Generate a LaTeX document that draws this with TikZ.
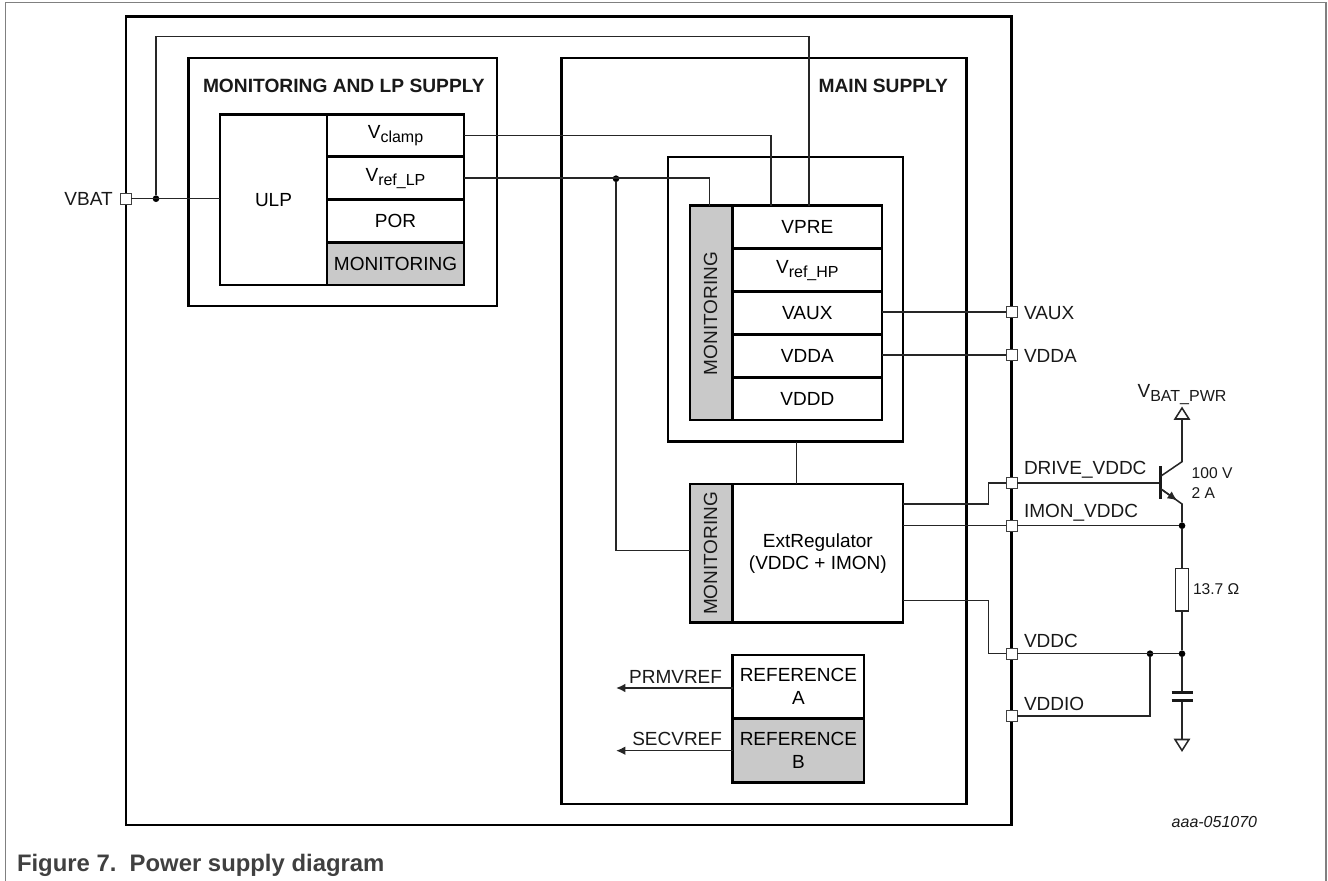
\documentclass[tikz,border=0pt]{standalone}
\usepackage{fontspec}
\setmainfont{Liberation Sans}
\usetikzlibrary{arrows.meta}
\newcommand{\vsub}[1]{V\raisebox{-3pt}{\fontsize{12}{12}\selectfont #1}}

\begin{document}
\begin{tikzpicture}[x=.75pt, y=-.75pt,
        nodes={inner sep=0pt, outer sep=0pt, text=black!90, font=\fontsize{14.25}{17}\selectfont},
        blk/.style 2 args={draw, black, line width=1.9pt, anchor=north west, align=center,
                minimum width=#1*.75pt, minimum height=#2*.75pt},
        shade/.style={fill=black!21},
        wire/.style={draw=black!85, line width=1.15pt},
        tipped/.style={-{Latex[length=7pt, width=6.5pt]}},
        pinbox/.style={draw=black!75, fill=white, line width=.9pt, minimum size=8.2pt},
        dot/.style={circle, fill=black, minimum size=5pt},
        lbl/.style={anchor=base west},
        small/.style={font=\fontsize{11.7}{14}\selectfont},
        title/.style={font=\bfseries\fontsize{14.4}{17}\selectfont}]
        \useasboundingbox (0,0) rectangle (1328,881);
        \draw[black!50, line width=1pt] (5.7,881) -- (5.7,2.7) -- (1326,2.7) -- (1326,881);

        \node[blk={885.7}{808.3}] (chip) at (126,16.7) {};
        \node[blk={308.5}{248}] (lp) at (188.5,58) {};
        \node[blk={405}{746}] (main) at (561.7,58) {};
        \node[blk={235}{284.7}] (inner) at (668,157) {};

        \node[blk={107}{170.5}] (ulp) at (220,114.5) {ULP};
        \node[blk={137}{42.2}] (vclamp) at (327,114.5) {\vsub{clamp}};
        \node[blk={137}{43}] (vreflp) at (327,156.7) {\vsub{ref\_LP}};
        \node[blk={137}{43}] (por) at (327,199.7) {POR};
        \node[blk={137}{42.3}, shade] (monlp) at (327,242.7) {MONITORING};

        \node[blk={43}{214.3}, shade] (monhp) at (690,205.7) {};
        \node[rotate=90] (monhptext) at (710.5,313.5) {MONITORING};
        \node[blk={149.3}{43}] (vpre) at (732.7,205.7) {VPRE};
        \node[blk={149.3}{43}] (vrefhp) at (732.7,248.7) {\vsub{ref\_HP}};
        \node[blk={149.3}{42.6}] (vaux) at (732.7,291.7) {VAUX};
        \node[blk={149.3}{43}] (vdda) at (732.7,334.3) {VDDA};
        \node[blk={149.3}{42.7}] (vddd) at (732.7,377.3) {VDDD};

        \node[blk={43}{138.7}, shade] (monext) at (690,484) {};
        \node[rotate=90] (monexttext) at (710.5,553.4) {MONITORING};
        \node[blk={170.3}{138.7}, font=\fontsize{14.25}{16.5}\selectfont] (extreg) at (732.7,484) {ExtRegulator\\(VDDC + IMON)};

        \node[blk={131.3}{63.3}, font=\fontsize{14.25}{17}\selectfont] (refa) at (732.7,655) {REFERENCE\\A};
        \node[blk={131.3}{64}, shade, font=\fontsize{14.25}{17}\selectfont] (refb) at (732.7,718.3) {REFERENCE\\B};

        \node[title, lbl] (lptitle) at (203,93) {MONITORING AND LP SUPPLY};
        \node[title, anchor=base east] (maintitle) at (948,93) {MAIN SUPPLY};

        \node[pinbox] (vbat) at (126,198.7) {};
        \node[pinbox] (pinvaux) at (1011.7,312) {};
        \node[pinbox] (pinvdda) at (1011.7,355) {};
        \node[pinbox] (pindrive) at (1011.7,483) {};
        \node[pinbox] (pinimon) at (1011.7,525.7) {};
        \node[pinbox] (pinvddc) at (1011.7,653.7) {};
        \node[pinbox] (pinvddio) at (1011.7,716) {};

        \node[anchor=base east] (vbatlbl) at (112.7,205) {VBAT};
        \node[lbl] (vauxlbl) at (1024,319) {VAUX};
        \node[lbl] (vddalbl) at (1024,362) {VDDA};
        \node[lbl] (drivelbl) at (1024,474) {DRIVE\_VDDC};
        \node[lbl] (imonlbl) at (1024,517) {IMON\_VDDC};
        \node[lbl] (vddclbl) at (1024,647) {VDDC};
        \node[lbl] (vddiolbl) at (1024,710) {VDDIO};
        \node[anchor=base east] (prmlbl) at (722,683) {PRMVREF};
        \node[anchor=base east] (seclbl) at (722,745) {SECVREF};

        \node[anchor=base] (vbatpwrlbl) at (1182,397) {\vsub{BAT\_PWR}};
        \node[lbl, small] (ratinga) at (1191.7,478) {100 V};
        \node[lbl, small] (ratingb) at (1191.7,498) {2 A};
        \node[lbl, small] (rval) at (1193,594) {13.7 Ω};
        \node[lbl, font=\itshape\fontsize{12}{14}\selectfont] (docid) at (1171.7,827) {aaa-051070};
        \node[lbl, text=black!75, font=\bfseries\fontsize{17.9}{20}\selectfont] (caption) at (17,871) {Figure 7.\ \ Power supply diagram};

        \node[dot] (vbatdot) at (156,198.7) {};
        \node[dot] (vrefdot) at (616,178.7) {};
        \node[dot] (imondot) at (1182,525.7) {};
        \node[dot] (vddcdot) at (1182,653.7) {};
        \node[dot] (vddiodot) at (1150,653.7) {};

        \coordinate (vpretop) at (809,36.7);
        \coordinate (clampin) at (771,205.7);
        \coordinate (monin) at (709.5,205.7);
        \coordinate (monextin) at (690,550.7);
        \coordinate (drvout) at (903,504);
        \coordinate (drvbend) at (988.7,504);
        \coordinate (imonout) at (903,525.7);
        \coordinate (vddcout) at (903,600.3);
        \coordinate (vddcbend) at (988.7,600.3);
        \coordinate (prmend) at (616,688);
        \coordinate (prmout) at (732.7,688);
        \coordinate (secend) at (616,750.7);
        \coordinate (secout) at (732.7,750.7);
        \coordinate (link) at (796.7,441.7);
        \coordinate (linkb) at (796.7,484);
        \coordinate (bjtbase) at (1160.7,483);
        \coordinate (bartop) at (1160.7,466);
        \coordinate (barbot) at (1160.7,499);
        \coordinate (colin) at (1161,476);
        \coordinate (colout) at (1182,461.7);
        \coordinate (emin) at (1161,489);
        \coordinate (emtip) at (1177,500.3);
        \coordinate (emout) at (1182,504);
        \coordinate (railtop) at (1182,419);
        \coordinate (capa) at (1182,692.3);
        \coordinate (capb) at (1182,700.7);
        \coordinate (railbot) at (1182,739.5);

        \draw[wire] (vbat.east) -- (vbat.east -| ulp.west);
        \draw[wire] (vbatdot) |- (vpretop) -- (vpretop |- vpre.north);
        \draw[wire] (vclamp.east) -| (clampin);
        \draw[wire] (vreflp.east) -| (monin);
        \draw[wire] (vrefdot) |- (monextin);
        \draw[wire] (link) -- (linkb);
        \draw[wire] (vaux.east |- pinvaux) -- (pinvaux);
        \draw[wire] (vdda.east |- pinvdda) -- (pinvdda);
        \draw[wire] (drvout) -- (drvbend) |- (pindrive);
        \draw[wire] (imonout) -- (pinimon);
        \draw[wire] (vddcout) -- (vddcbend) |- (pinvddc);
        \draw[wire, tipped] (prmout) -- (prmend);
        \draw[wire, tipped] (secout) -- (secend);

        \draw[wire] (pindrive) -- (bjtbase);
        \draw[wire] (pinimon) -- (imondot);
        \draw[wire] (pinvddc) -- (vddcdot);
        \draw[wire] (vddiodot) |- (pinvddio);
        \draw[black!90, line width=1.9pt] (bartop) -- (barbot);
        \draw[wire] (colin) -- (colout) -- (railtop);
        \draw[wire] (emin) -- (emout) -- (imondot);
        \draw[wire, tipped] (emin) -- (emtip);
        \draw[wire] (imondot) -- (vddcdot);
        \draw[wire] (vddcdot) -- (capa);
        \draw[wire] (capb) -- (railbot);
        \draw[black!90, line width=2.5pt] ([xshift=-10.5*.75pt]capa) -- ([xshift=10.5*.75pt]capa);
        \draw[black!90, line width=2.5pt] ([xshift=-10.5*.75pt]capb) -- ([xshift=10.5*.75pt]capb);
        \draw[wire, fill=white] (railtop) -- ++(-7,0) -- ++(7,-11) -- ++(7,11) -- cycle;
        \draw[wire, fill=white] (railbot) -- ++(-7,0) -- ++(7,11) -- ++(7,-11) -- cycle;

        \node[draw=black!85, fill=white, line width=1.15pt, minimum width=9.8pt, minimum height=32pt] (rshunt) at (1182,589.7) {};
\end{tikzpicture}
\end{document}
